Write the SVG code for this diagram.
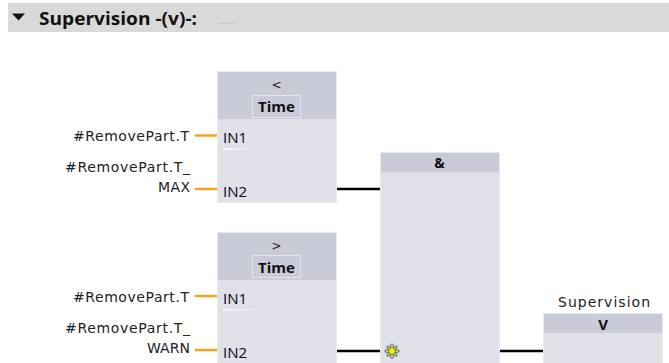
<svg xmlns="http://www.w3.org/2000/svg" width="669" height="363" viewBox="0 0 669 363">
<style>
.body{fill:#dfe0e8;stroke:#e9eaf0;stroke-width:1}
.hdr{fill:#c9cbd9}
.tbox{fill:#c9cbd9;stroke:#e4e5ec;stroke-width:1}
.lbl{font-family:"DejaVu Sans",sans-serif;font-size:14px;fill:#222}
.pin{font-family:"Open Sans","DejaVu Sans",sans-serif;font-size:15px;fill:#0a0a0a}
.bold{font-family:"Open Sans","DejaVu Sans",sans-serif;font-weight:bold;fill:#111}
.sym{font-family:"DejaVu Sans",sans-serif;font-size:12px;fill:#222}
.or{stroke:#f7a21b;stroke-width:2.5}
.bk{stroke:#000;stroke-width:2.5}
</style>
<defs>
<linearGradient id="ul" x1="0" x2="1" y1="0" y2="0">
<stop offset="0" stop-color="#ffffff"/>
<stop offset="1" stop-color="#ffffff" stop-opacity="0"/>
</linearGradient>
</defs>
<rect width="669" height="363" fill="#ffffff"/>
<g id="title">
<rect x="8" y="3" width="661" height="29" fill="#d9d9d9"/>
<path d="M12 13.5 L25 13.5 L18.5 20.5 Z" fill="#111"/>
<text x="39" y="25" class="bold" font-size="18" textLength="158" lengthAdjust="spacingAndGlyphs">Supervision -(v)-:</text>
<text x="218" y="24" font-family="DejaVu Sans,sans-serif" font-size="9" fill="#9a9a9a" textLength="17">.....</text>
</g>
<g id="connectors">
<line class="or" x1="195" y1="135.5" x2="217" y2="135.5"/>
<line class="or" x1="195" y1="189" x2="217" y2="189"/>
<line class="or" x1="195" y1="296" x2="217" y2="296"/>
<line class="or" x1="195" y1="350" x2="217" y2="350"/>
<line class="bk" x1="336" y1="189" x2="380" y2="189"/>
<line class="bk" x1="336" y1="351" x2="380" y2="351"/>
<line class="bk" x1="499" y1="351" x2="543" y2="351"/>
</g>
<g id="lt">
<rect class="body" x="217.5" y="71.5" width="119" height="131"/>
<rect class="hdr" x="218" y="72" width="118" height="47"/>
<text x="276.5" y="89" class="sym" text-anchor="middle">&lt;</text>
<rect class="tbox" x="252.5" y="95.5" width="48" height="22"/>
<text x="276.5" y="112" class="bold" font-size="15" text-anchor="middle">Time</text>
<text x="223" y="143" class="pin">IN1</text>
<rect x="223" y="148.5" width="33" height="1.5" fill="url(#ul)"/>
<text x="223" y="197" class="pin">IN2</text>
<text x="189" y="141" class="lbl" textLength="116" lengthAdjust="spacing" text-anchor="end">#RemovePart.T</text>
<text x="190" y="172" class="lbl" textLength="125" lengthAdjust="spacing" text-anchor="end">#RemovePart.T_</text>
<text x="190" y="192" class="lbl" textLength="32" lengthAdjust="spacing" text-anchor="end">MAX</text>
</g>
<g id="gt">
<rect class="body" x="217.5" y="232.5" width="119" height="140"/>
<rect class="hdr" x="218" y="233" width="118" height="47"/>
<text x="276.5" y="250" class="sym" text-anchor="middle">&gt;</text>
<rect class="tbox" x="252.5" y="255.5" width="48" height="22"/>
<text x="276.5" y="273" class="bold" font-size="15" text-anchor="middle">Time</text>
<text x="223" y="304" class="pin">IN1</text>
<rect x="223" y="309" width="33" height="1.5" fill="url(#ul)"/>
<text x="223" y="358" class="pin">IN2</text>
<text x="189" y="302" class="lbl" textLength="116" lengthAdjust="spacing" text-anchor="end">#RemovePart.T</text>
<text x="190" y="333" class="lbl" textLength="125" lengthAdjust="spacing" text-anchor="end">#RemovePart.T_</text>
<text x="190" y="353" class="lbl" textLength="43" lengthAdjust="spacing" text-anchor="end">WARN</text>
</g>
<g id="and">
<rect class="body" x="380.5" y="152.5" width="119" height="220"/>
<rect class="hdr" x="381" y="153" width="118" height="19"/>
<text x="439.5" y="168" class="bold" font-size="14" text-anchor="middle">&amp;</text>
<g stroke="#2a3aa0" stroke-width="3" stroke-linecap="round">
<path d="M392 345 V357 M386 351 H398 M388 347 L396 355 M396 347 L388 355"/>
</g>
<g stroke="#f2f200" stroke-width="1.6" stroke-linecap="round">
<path d="M392 345 V357 M386 351 H398 M388 347 L396 355 M396 347 L388 355"/>
</g>
</g>
<g id="coil">
<text x="604" y="307" class="lbl" textLength="92" lengthAdjust="spacing" text-anchor="middle">Supervision</text>
<rect class="body" x="543.5" y="313.5" width="119" height="60"/>
<rect class="hdr" x="544" y="314" width="118" height="19"/>
<text x="603" y="330" class="bold" font-size="15" text-anchor="middle">V</text>
</g>
</svg>
